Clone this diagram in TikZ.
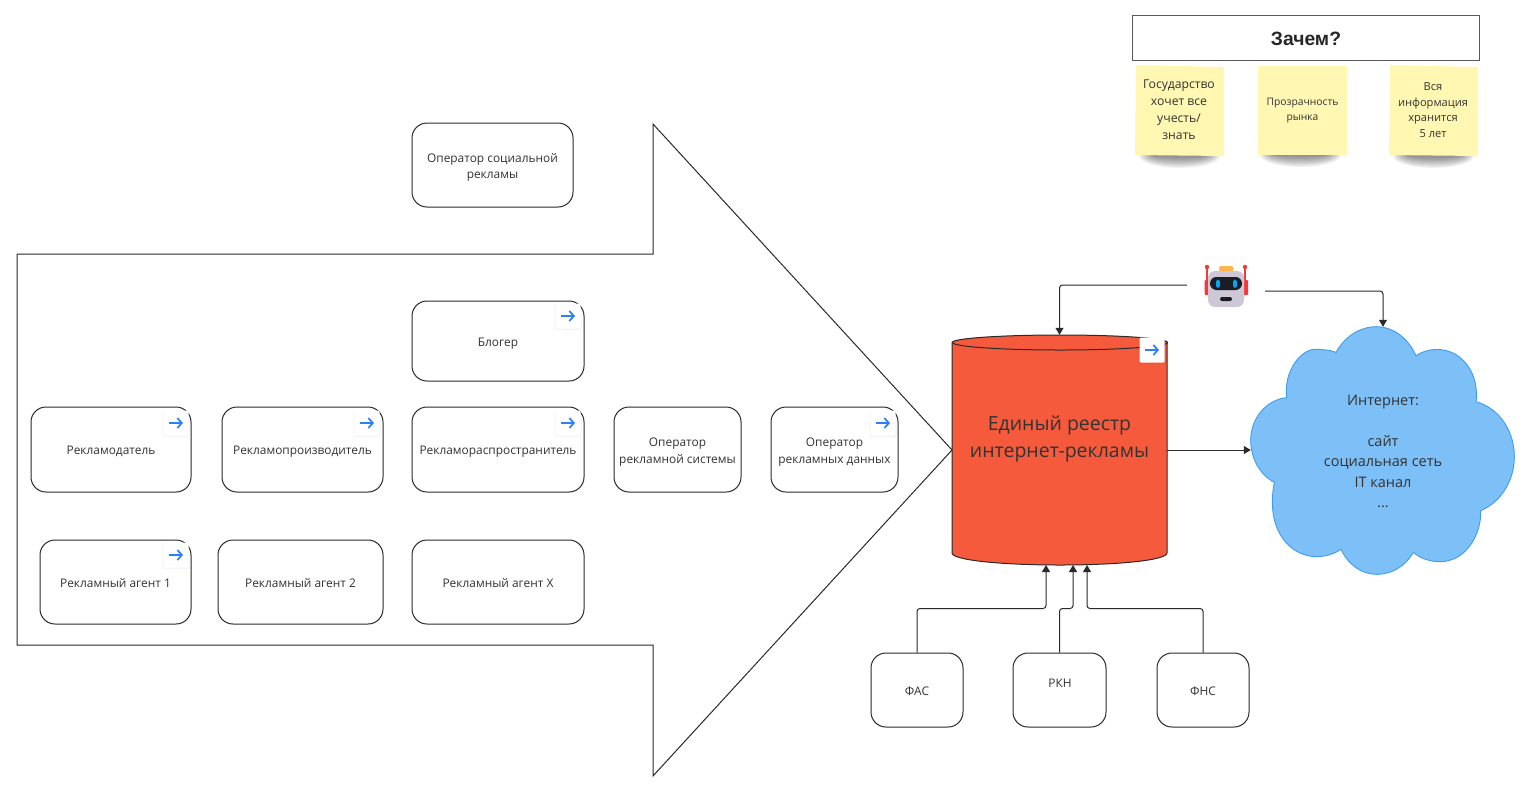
\documentclass[tikz,border=0pt]{standalone}
\usepackage{fontspec}
\setmainfont{Open Sans}
\newfontfamily\headfont{Liberation Sans}
\usetikzlibrary{arrows.meta,calc}
\definecolor{ink}{HTML}{333333}
\definecolor{line}{HTML}{2A2A2A}
\definecolor{sticky}{HTML}{FFF7B2}
\definecolor{regfill}{HTML}{F55A3C}
\definecolor{cloudfill}{HTML}{7DBFF7}
\definecolor{cloudline}{HTML}{3F9CEE}
\definecolor{linkblue}{HTML}{2D7FF9}
\definecolor{botred}{HTML}{F23A3A}
\definecolor{bothead}{HTML}{CEC7D6}
\definecolor{botdark}{HTML}{1C1C24}
\definecolor{boteye}{HTML}{0AA5EE}
\definecolor{botyellow}{HTML}{FDB44B}
\tikzset{
  x=1pt,y=-1pt,
  rbox/.style={draw=line,line width=1pt,rounded corners=15pt,fill=white,align=center,text=ink,
    font=\fontsize{11.9}{17}\selectfont,inner sep=0pt},
  conn/.style={draw=line,line width=1pt,rounded corners=3pt,-{Triangle[length=7pt,width=8pt]}},
  badge/.style={fill=white,minimum size=25pt,inner sep=0pt,rounded corners=1pt},
  linkarrow/.style={draw=linkblue,line width=1.7pt,-{Straight Barb[length=4.5pt,width=10pt,line width=1.7pt]}},
}
\newcommand{\dn}[1]{\rule{0pt}{\dimexpr 9.5pt+#1pt+#1pt\relax}}
\newcommand{\boxat}[6]{% name, x1, y1, x2, y2, text
  \node[rbox,minimum width={#4-#2},minimum height={#5-#3}] (#1) at ({(#2+#4)/2},{(#3+#5)/2}) {#6};}
\newcommand{\linkbadge}[3]{% name, cx, cy
  \fill[black,opacity=.04,rounded corners=1pt] (#2-13.5,#3-12) rectangle (#2+13.5,#3+14);
  \node[badge] (#1) at (#2,#3) {};
  \draw[linkarrow] (#2-7,#3) -- (#2+7,#3);}
\newcommand{\noteshadow}[3]{% x1, x2, ybottom
  \foreach \k in {0,1,...,9}{
    \fill[black,opacity=.05] ({(#1+#2)/2},#3) ellipse [x radius={(#2-#1)/2-2-\k*1.7},y radius={12-\k*1.15}];
  }}
\begin{document}
\begin{tikzpicture}
\useasboundingbox (0,0) rectangle (1528,796);
\fill[white] (0,0) rectangle (1528,796);

% large arrow
\draw[line,line width=1pt] (17,254) -- (653,254) -- (653,124) -- (952,450) -- (653,776) -- (653,645) -- (17,645) -- cycle;

% boxes
\boxat{soc}{412}{123}{573}{207}{\dn{2.5}Оператор социальной\\[-1pt]рекламы}
\boxat{blog}{412}{301}{584}{381}{\dn{2.5}Блогер}
\boxat{adv}{31}{407}{191}{492}{\dn{1.5}Рекламодатель}
\boxat{prod}{222}{407}{383}{492}{\dn{1.5}Рекламопроизводитель}
\boxat{dist}{412}{407}{584}{492}{\dn{1.5}Рекламораспространитель}
\boxat{sys}{614}{407}{741}{492}{\dn{2.5}Оператор\\рекламной системы}
\boxat{data}{771}{407}{898}{492}{\dn{2.5}Оператор\\рекламных данных}
\boxat{ag1}{40}{540}{191}{624}{\dn{1}Рекламный агент 1}
\boxat{ag2}{218}{540}{383}{624}{\dn{1}Рекламный агент 2}
\boxat{agx}{412}{540}{584}{624}{\dn{1}Рекламный агент X}
\boxat{fas}{871}{653}{963}{727}{\dn{1}ФАС}
\boxat{rkn}{1013}{653}{1106}{727}{}
\node[text=ink,font=\fontsize{11.9}{17}\selectfont] (rkntext) at (1060,683) {РКН};
\boxat{fns}{1157}{653}{1249}{727}{\dn{1}ФНС}

% register cylinder
\fill[regfill] (952,342) -- (952,553) .. controls (952,560) and (1000,565) .. (1060,565) .. controls (1120,565) and (1167,560) .. (1167,553) -- (1167,342) .. controls (1167,338) and (1120,335) .. (1060,335) .. controls (1000,335) and (952,338) .. (952,342) -- cycle;
\draw[line,line width=1pt] (952,342) -- (952,553) .. controls (952,560) and (1000,565) .. (1060,565) .. controls (1120,565) and (1167,560) .. (1167,553) -- (1167,342);
\draw[line,line width=1pt] (1060,342.5) ellipse [x radius=107.5,y radius=7.5];
\node[minimum width=215pt,minimum height=230pt,inner sep=0pt] (reg) at (1059.5,450) {};
\node[align=center,text=ink,font=\fontsize{19.5}{27}\selectfont] (regtext) at (1059.5,439) {Единый реестр\\интернет-рекламы};

% cloud
\begin{scope}[shift={(1240,320)},x=.33333pt,y=-.33333pt]
\draw[fill=cloudfill,draw=cloudline,line width=.9pt]
  (288,97) .. controls (320,40) and (370,20) .. (408,20)
  .. controls (460,20) and (505,55) .. (528,107)
  .. controls (560,85) and (610,80) .. (650,105)
  .. controls (695,135) and (715,190) .. (708,245)
  .. controls (780,265) and (823,335) .. (823,410)
  .. controls (823,480) and (785,545) .. (722,572)
  .. controls (725,640) and (680,725) .. (600,725)
  .. controls (570,725) and (540,715) .. (520,697)
  .. controls (495,740) and (455,763) .. (410,763)
  .. controls (365,763) and (325,735) .. (303,688)
  .. controls (280,703) and (255,710) .. (230,710)
  .. controls (150,710) and (75,630) .. (103,487)
  .. controls (60,465) and (32,415) .. (32,360)
  .. controls (32,295) and (80,238) .. (140,233)
  .. controls (130,150) and (185,88) .. (225,88)
  .. controls (250,88) and (270,90) .. (288,97) -- cycle;
\end{scope}
\node[minimum width=264pt,minimum height=246pt,inner sep=0pt,align=center,text=ink,font=\fontsize{14.5}{20.4}\selectfont] (cloud) at (1383,450) {\rule{0pt}{13pt}Интернет:\\[20.4pt]сайт\\социальная сеть\\IT канал\\...};

% robot
\node[minimum width=78pt,minimum height=78pt,inner sep=0pt] (robot) at (1226,287) {};
\fill[botred,rounded corners=1pt] (1204.5,280) rectangle (1209,295);
\fill[botred,rounded corners=1pt] (1243,280) rectangle (1248,295);
\draw[botred,line width=1.2pt] (1207,267) -- (1207,283);
\draw[botred,line width=1.2pt] (1245,267) -- (1245,283);
\fill[botred] (1207,267) circle (2.2);
\fill[botred] (1245,267) circle (2.2);
\fill[botyellow,rounded corners=2.4pt] (1219,266) rectangle (1233.5,271.5);
\fill[bothead,rounded corners=7pt] (1208,271) rectangle (1244,307);
\fill[botdark,rounded corners=6.4pt] (1210,277) rectangle (1242,290);
\fill[boteye,rounded corners=1.8pt] (1216,279.5) rectangle (1220,288);
\fill[boteye,rounded corners=1.8pt] (1233,279.5) rectangle (1237,288);
\fill[botdark,rounded corners=2pt] (1220,297) rectangle (1232,301);

% link badges
\linkbadge{bblog}{568}{316}
\linkbadge{badv}{176}{423}
\linkbadge{bprod}{367}{423}
\linkbadge{bdist}{568}{423}
\linkbadge{bdata}{883}{423}
\linkbadge{bag}{176}{555}
\linkbadge{breg}{1152}{350}

% connectors
\coordinate (in1) at (1046,565);
\coordinate (in2) at (1073,565);
\coordinate (in3) at (1087,565);
\draw[conn] (fas.north) -- ++(0,-44) -| (in1);
\draw[conn] (rkn.north) -- ++(0,-44) -| (in2);
\draw[conn] (fns.north) -- ++(0,-44) -| (in3);
\draw[conn] (reg.east) -- (cloud.west);
\draw[conn] ([yshift=2pt]robot.west) -| (reg.north);
\draw[conn] ([yshift=-4pt]robot.east) -| (cloud.north);

% why
\draw[draw=black!65,line width=1.5pt,fill=white] (1132.5,15.5) rectangle (1479.5,60.5);
\node[font=\headfont\bfseries\fontsize{19.3}{22}\selectfont,text=black!85] (why) at (1306,38.5) {Зачем?};

\noteshadow{1137}{1222}{156}
\noteshadow{1258}{1343}{155}
\noteshadow{1391}{1476}{156}
\fill[sticky] (1136,65) -- (1224,67) -- (1224,156) -- (1135,155) -- cycle;
\fill[sticky] (1258,66) -- (1347,66) -- (1347,155) -- (1258,155) -- cycle;
\fill[sticky] (1390,65) -- (1478,67) -- (1478,156) -- (1389,155) -- cycle;
\node[align=center,text=ink,font=\fontsize{12.2}{17}\selectfont] (n1) at (1179,109.5) {Государство\\хочет все\\учесть/\\знать};
\node[align=center,text=ink,font=\fontsize{10.3}{14.5}\selectfont] (n2) at (1302.5,110.5) {Прозрачность\\рынка};
\node[align=center,text=ink,font=\fontsize{11.1}{15.5}\selectfont] (n3) at (1433,110) {Вся\\информация\\хранится\\5 лет};
\end{tikzpicture}
\end{document}
